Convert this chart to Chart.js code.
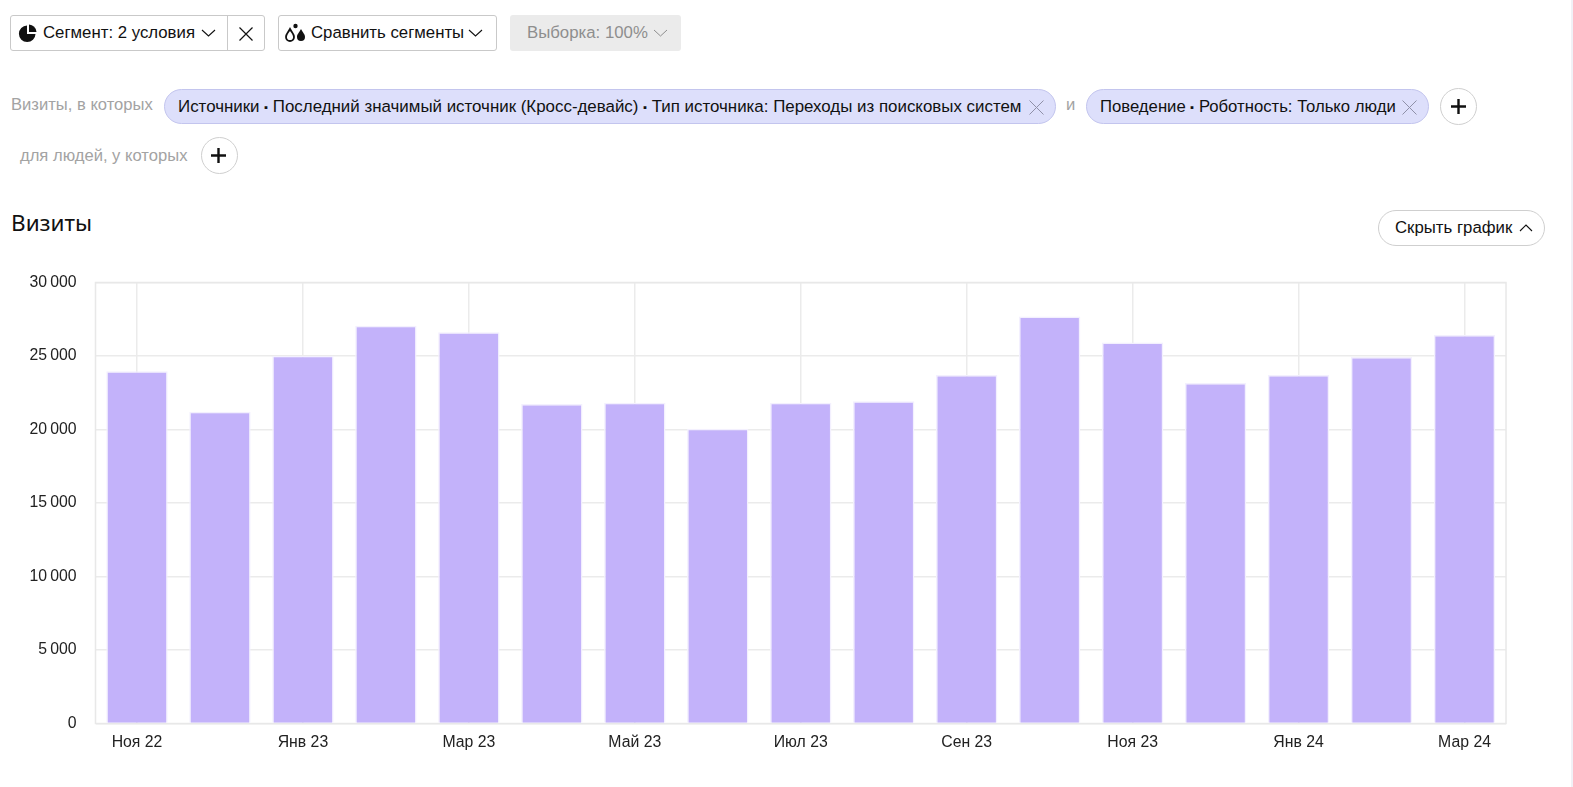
<!DOCTYPE html>
<html lang="ru">
<head>
<meta charset="utf-8">
<title>Визиты</title>
<script src="https://cdn.jsdelivr.net/npm/chart.js@4/dist/chart.umd.min.js"></script>
<style>
  html, body { margin: 0; padding: 0; background: #fff; }
  body { position: relative; width: 1573px; height: 787px; overflow: hidden; font-family: "Liberation Sans", Arial, sans-serif; color: #111; }
  .abs { position: absolute; box-sizing: border-box; white-space: nowrap; }
  .btn { border: 1px solid #c9c9c9; border-radius: 3px; background: #fff; height: 36px; }
  .txt { font-size: 16.8px; line-height: 18px; }
  .gray { color: #a3a3a3; font-size: 16.6px; }
  .cond { font-size: 16.9px; top: 98px; }
  .dot { font-size: 11px; vertical-align: 1px; }
  .chip { background: #dddffb; border: 1px solid #c3c5ee; border-radius: 18px; height: 35px; top: 89px; }
  .round { width: 37px; height: 37px; border: 1px solid #cfcfcf; border-radius: 50%; background: #fff; }
  svg { position: absolute; overflow: visible; fill: none; }
  #chart { position: absolute; left: 0; top: 254px; }
  #strip { position: absolute; left: 1571px; top: 0; width: 2px; height: 787px; background: #f1f1f6; }
</style>
</head>
<body>

<!-- top toolbar -->
<div class="abs btn" style="left:10px;top:15px;width:255px"></div>
<div class="abs" style="left:227px;top:15px;width:1px;height:36px;background:#c9c9c9"></div>
<svg style="left:19px;top:24px" width="18" height="18" viewBox="0 0 18 18">
  <path d="M8 1.5 V10 H16.5 A8.3 8.3 0 1 1 8 1.5 Z" fill="#111"/>
  <path d="M10 0.5 A8 8 0 0 1 17.5 8 H10 Z" fill="#111"/>
</svg>
<div class="abs txt" style="left:43px;top:24px">Сегмент: 2 условия</div>
<svg style="left:201px;top:29px" width="15" height="8"><path d="M1 1 L7.5 7 L14 1" stroke="#111" stroke-width="1.1"/></svg>
<svg style="left:239px;top:27px" width="14" height="14"><path d="M0.5 0.5 L13.5 13.5 M13.5 0.5 L0.5 13.5" stroke="#111" stroke-width="1.2"/></svg>

<div class="abs btn" style="left:278px;top:15px;width:219px"></div>
<svg style="left:285px;top:23px" width="21" height="20" viewBox="0 0 21 20">
  <path d="M5 6 C7 10 9 11 9 14 A4 4 0 0 1 1 14 C1 11 3 10 5 6 Z" stroke="#111" stroke-width="1.8"/>
  <path d="M16 6 C18 10 20 11 20 14 A4 4 0 0 1 12 14 C12 11 14 10 16 6 Z" fill="#111"/>
  <circle cx="10.5" cy="3" r="2.2" fill="#111"/>
</svg>
<div class="abs txt" style="left:311px;top:24px">Сравнить сегменты</div>
<svg style="left:468px;top:29px" width="15" height="8"><path d="M1 1 L7.5 7 L14 1" stroke="#111" stroke-width="1.1"/></svg>

<div class="abs" style="left:510px;top:15px;width:171px;height:36px;background:#ebebeb;border-radius:3px"></div>
<div class="abs txt" style="left:527px;top:24px;color:#8e8e8e">Выборка: 100%</div>
<svg style="left:653px;top:29px" width="15" height="8"><path d="M1 1 L7.5 7 L14 1" stroke="#8e8e8e" stroke-width="1"/></svg>

<!-- segment conditions -->
<div class="abs txt gray" style="left:11px;top:96px">Визиты, в которых</div>
<div class="abs chip" style="left:164px;width:892px"></div>
<div class="abs txt cond" style="left:178px">Источники <span class="dot">▪</span> Последний значимый источник (Кросс-девайс) <span class="dot">▪</span> Тип источника: Переходы из поисковых систем</div>
<svg style="left:1029px;top:100px" width="15" height="15"><path d="M0.5 0.5 L14.5 14.5 M14.5 0.5 L0.5 14.5" stroke="#8f90a8" stroke-width="1"/></svg>
<div class="abs txt gray" style="left:1066px;top:96px">и</div>
<div class="abs chip" style="left:1086px;width:343px"></div>
<div class="abs txt cond" style="left:1100px;font-size:16.7px">Поведение <span class="dot">▪</span> Роботность: Только люди</div>
<svg style="left:1402px;top:100px" width="15" height="15"><path d="M0.5 0.5 L14.5 14.5 M14.5 0.5 L0.5 14.5" stroke="#8f90a8" stroke-width="1"/></svg>
<div class="abs round" style="left:1440px;top:88px"></div>
<svg style="left:1451px;top:99px" width="15" height="15"><path d="M7.5 0 V15 M0 7.5 H15" stroke="#111" stroke-width="2.4"/></svg>

<div class="abs txt gray" style="left:20px;top:147px">для людей, у которых</div>
<div class="abs round" style="left:201px;top:137px"></div>
<svg style="left:211px;top:148px" width="15" height="15"><path d="M7.5 0 V15 M0 7.5 H15" stroke="#111" stroke-width="2.4"/></svg>

<!-- chart header -->
<div class="abs" style="left:11px;top:209px;font-size:22.5px;line-height:28px;font-family:'Noto Sans','Liberation Sans',sans-serif">Визиты</div>
<div class="abs" style="left:1378px;top:210px;width:167px;height:36px;border:1px solid #cfcfcf;border-radius:18px"></div>
<div class="abs txt" style="left:1395px;top:219px">Скрыть график</div>
<svg style="left:1519px;top:224px" width="14" height="8"><path d="M1 7 L7 1 L13 7" stroke="#111" stroke-width="1.1"/></svg>

<canvas id="chart" width="1571" height="517"></canvas>
<div id="strip"></div>

<script>
const months = ["Ноя 22", "Дек 22", "Янв 23", "Фев 23", "Мар 23", "Апр 23", "Май 23", "Июн 23", "Июл 23",
  "Авг 23", "Сен 23", "Окт 23", "Ноя 23", "Дек 23", "Янв 24", "Фев 24", "Мар 24"];
const visits = [23960, 21210, 25020, 27060, 26620, 21730, 21820, 20050, 21820, 21920, 23710, 27680, 25910,
  23160, 23710, 24930, 26430];
const yMax = 30000;
const yStep = 5000;

const gridColor = "#ebebeb";

// outer frame of the plot, the scales only give us the left and bottom edges
const plotFrame = {
  id: "plotFrame",
  beforeDatasetsDraw(chart) {
    const { ctx, chartArea: a } = chart;
    ctx.save();
    ctx.strokeStyle = "#e8e8e8";
    ctx.lineWidth = 1.5;
    ctx.strokeRect(a.left, a.top, a.right - a.left, a.bottom - a.top);
    ctx.restore();
  },
};

new Chart(document.getElementById("chart").getContext("2d"), {
  type: "bar",
  plugins: [plotFrame],
  data: {
    labels: months,
    datasets: [
      {
        label: "Визиты",
        data: visits,
        backgroundColor: "#c3b2fa",
        borderColor: "#f3f0fe",
        borderWidth: 1.5,
        inflateAmount: 0,
        categoryPercentage: 1,
        barPercentage: 0.74,
      },
    ],
  },
  options: {
    responsive: false,
    animation: false,
    layout: { padding: { top: 16, right: 65, left: 0, bottom: 0 } },
    plugins: {
      legend: { display: false },
      tooltip: { enabled: false },
    },
    scales: {
      y: {
        min: 0,
        max: yMax,
        afterFit(scale) {
          scale.width = 95.5;
        },
        border: { display: false },
        grid: { color: gridColor, lineWidth: 1.5, drawTicks: false },
        ticks: {
          stepSize: yStep,
          padding: 19,
          color: "#222",
          font: { family: "Liberation Sans", size: 15.8 },
          callback: (v) => String(v).replace(/\B(?=(\d{3})+$)/g, "\u2009"),
        },
      },
      x: {
        afterFit(scale) {
          scale.height = 47.5;
        },
        border: { display: false },
        grid: {
          offset: false,
          drawTicks: false,
          lineWidth: 1.5,
          // only every second month gets a vertical line
          color: (ctx) => (ctx.index % 2 === 0 ? gridColor : "rgba(0, 0, 0, 0)"),
        },
        ticks: {
          autoSkip: false,
          maxRotation: 0,
          padding: 10,
          color: "#222",
          font: { family: "Liberation Sans", size: 15.8 },
          callback(v, i) {
            return i % 2 === 0 ? months[i] : "";
          },
        },
      },
    },
  },
});
</script>
</body>
</html>
